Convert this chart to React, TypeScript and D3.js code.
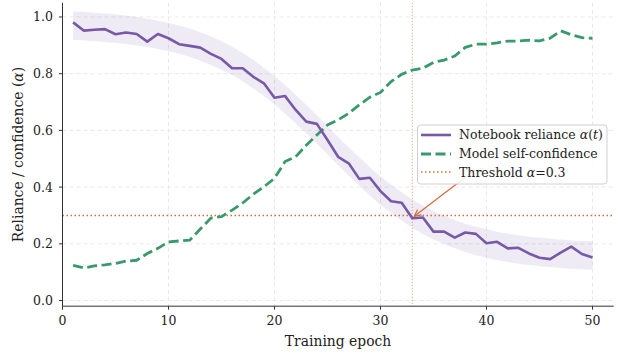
import * as d3 from "d3";

// epochs 1..50
const epochs = d3.range(1, 51);

const reliance = [
  0.981, 0.952, 0.955, 0.957, 0.939, 0.945, 0.94, 0.913, 0.94, 0.925,
  0.904, 0.898, 0.892, 0.87, 0.852, 0.819, 0.819, 0.789, 0.766, 0.715,
  0.721, 0.672, 0.631, 0.623, 0.566, 0.507, 0.484, 0.429, 0.433, 0.386,
  0.35, 0.345, 0.29, 0.293, 0.243, 0.243, 0.222, 0.24, 0.235, 0.202,
  0.207, 0.184, 0.186, 0.166, 0.151, 0.146, 0.169, 0.19, 0.164, 0.152,
];

const confidence = [
  0.124, 0.115, 0.122, 0.126, 0.131, 0.139, 0.142, 0.166, 0.184, 0.207,
  0.21, 0.213, 0.252, 0.291, 0.296, 0.319, 0.344, 0.375, 0.401, 0.431,
  0.49, 0.507, 0.548, 0.584, 0.619, 0.637, 0.66, 0.69, 0.717, 0.734,
  0.772, 0.798, 0.813, 0.819, 0.84, 0.848, 0.862, 0.893, 0.904, 0.904,
  0.909, 0.915, 0.915, 0.918, 0.916, 0.925, 0.951, 0.937, 0.927, 0.925,
];

// smooth trend behind the reliance curve (band = trend ± bandHalf)
const trend = [
  0.97, 0.968, 0.965, 0.962, 0.959, 0.955, 0.95, 0.944, 0.937, 0.929,
  0.92, 0.909, 0.896, 0.881, 0.864, 0.845, 0.823, 0.798, 0.771, 0.742,
  0.71, 0.675, 0.64, 0.603, 0.565, 0.527, 0.49, 0.455, 0.42, 0.388,
  0.359, 0.332, 0.307, 0.285, 0.266, 0.249, 0.234, 0.221, 0.21, 0.201,
  0.193, 0.186, 0.18, 0.175, 0.171, 0.168, 0.165, 0.162, 0.16, 0.159,
];
const bandHalf = 0.05;

const threshold = 0.3;
const crossEpoch = 33;
const xTicks = [0, 10, 20, 30, 40, 50];
const yTicks = [0, 0.2, 0.4, 0.6, 0.8, 1.0];

const W = 618;
const H = 354;
const PURPLE = "#7759a8";
const GREEN = "#389a6b";
const ORANGE = "#d2693c";
const FONT = "'DejaVu Serif', serif";

export default function App() {
  const x = d3.scaleLinear().domain([0, 52]).range([62.5, 613.7]);
  const y = d3.scaleLinear().domain([-0.02, 1.05]).range([306.2, 2.8]);
  const [x0, x1] = x.range();
  const [yb, yt] = y.range();

  const line = d3
    .line<number>()
    .x((_, i) => x(epochs[i]))
    .y((d) => y(d));

  const band = d3
    .area<number>()
    .x((_, i) => x(epochs[i]))
    .y0((d) => y(d - bandHalf))
    .y1((d) => y(d + bandHalf))
    .curve(d3.curveMonotoneX);

  const cx = x(crossEpoch);
  const cy = y(reliance[crossEpoch - 1]);
  // annotation text sits behind the legend; only the arrow shows
  const ax = x(38.9);
  const ay = y(0.46);

  return (
    <svg
      width={W}
      height={H}
      style={{ position: "fixed", left: 0, top: 0, background: "#fff" }}
      fontFamily={FONT}
    >
      <defs>
        <marker
          id="arr"
          viewBox="0 0 10 10"
          refX="9"
          refY="5"
          markerWidth="7"
          markerHeight="7"
          orient="auto-start-reverse"
        >
          <path d="M1,1 L9,5 L1,9" fill="none" stroke={ORANGE} strokeWidth="1.4" />
        </marker>
      </defs>

      {/* grid */}
      <g stroke="#e3e3e3" strokeWidth={0.8} strokeDasharray="4,3">
        {xTicks.map((t) => (
          <line key={"gx" + t} x1={x(t)} x2={x(t)} y1={yt} y2={yb} />
        ))}
        {yTicks.map((t) => (
          <line key={"gy" + t} x1={x0} x2={x1} y1={y(t)} y2={y(t)} />
        ))}
      </g>

      {/* band + series */}
      <path d={band(trend) ?? ""} fill={PURPLE} fillOpacity={0.12} stroke="none" />
      <line
        x1={cx}
        x2={cx}
        y1={yt}
        y2={yb}
        stroke={ORANGE}
        strokeOpacity={0.7}
        strokeWidth={1}
        strokeDasharray="1,2"
      />
      <line
        x1={x0}
        x2={x1}
        y1={y(threshold)}
        y2={y(threshold)}
        stroke={ORANGE}
        strokeWidth={1.5}
        strokeDasharray="1.5,2.5"
      />
      <path
        d={line(confidence) ?? ""}
        fill="none"
        stroke={GREEN}
        strokeWidth={2.8}
        strokeDasharray="10,4.5"
      />
      <path
        d={line(reliance) ?? ""}
        fill="none"
        stroke={PURPLE}
        strokeWidth={2.6}
        strokeLinejoin="round"
      />
      <line
        x1={ax}
        y1={ay}
        x2={cx + 2}
        y2={cy - 2}
        stroke={ORANGE}
        strokeWidth={1.2}
        markerEnd="url(#arr)"
      />

      {/* axes */}
      <g stroke="#333" strokeWidth={1}>
        <line x1={x0} x2={x0} y1={yt} y2={yb} />
        <line x1={x0} x2={x1} y1={yb} y2={yb} />
        {xTicks.map((t) => (
          <line key={"tx" + t} x1={x(t)} x2={x(t)} y1={yb} y2={yb + 3.5} />
        ))}
        {yTicks.map((t) => (
          <line key={"ty" + t} x1={x0 - 3.5} x2={x0} y1={y(t)} y2={y(t)} />
        ))}
      </g>
      <g fontSize={12.5} fill="#222">
        {xTicks.map((t) => (
          <text key={"lx" + t} x={x(t)} y={yb + 19} textAnchor="middle">
            {t}
          </text>
        ))}
        {yTicks.map((t) => (
          <text key={"ly" + t} x={x0 - 9.5} y={y(t) + 4.5} textAnchor="end">
            {t.toFixed(1)}
          </text>
        ))}
      </g>
      <text x={(x0 + x1) / 2} y={346} textAnchor="middle" fontSize={13.9} fill="#222">
        Training epoch
      </text>
      <text
        transform={`translate(23,${(yt + yb) / 2}) rotate(-90)`}
        textAnchor="middle"
        fontSize={13.9}
        fill="#222"
      >
        Reliance / confidence (<tspan fontStyle="italic">α</tspan>)
      </text>

      {/* legend */}
      <g>
        <rect
          x={417.5}
          y={125}
          width={189.5}
          height={59}
          rx={3}
          fill="#fff"
          fillOpacity={0.85}
          stroke="#d0d0d0"
        />
        <line x1={421} x2={451} y1={135} y2={135} stroke={PURPLE} strokeWidth={2.6} />
        <line
          x1={421}
          x2={451}
          y1={154}
          y2={154}
          stroke={GREEN}
          strokeWidth={2.8}
          strokeDasharray="10,4.5"
        />
        <line
          x1={421}
          x2={451}
          y1={172}
          y2={172}
          stroke={ORANGE}
          strokeWidth={1.5}
          strokeDasharray="1.5,2.5"
        />
        <g fontSize={12.5} fill="#222">
          <text x={459} y={139}>
            Notebook reliance <tspan fontStyle="italic">α</tspan>(<tspan fontStyle="italic">t</tspan>)
          </text>
          <text x={459} y={158}>
            Model self-confidence
          </text>
          <text x={459} y={176.5}>
            Threshold <tspan fontStyle="italic">α</tspan>=0.3
          </text>
        </g>
      </g>
    </svg>
  );
}
